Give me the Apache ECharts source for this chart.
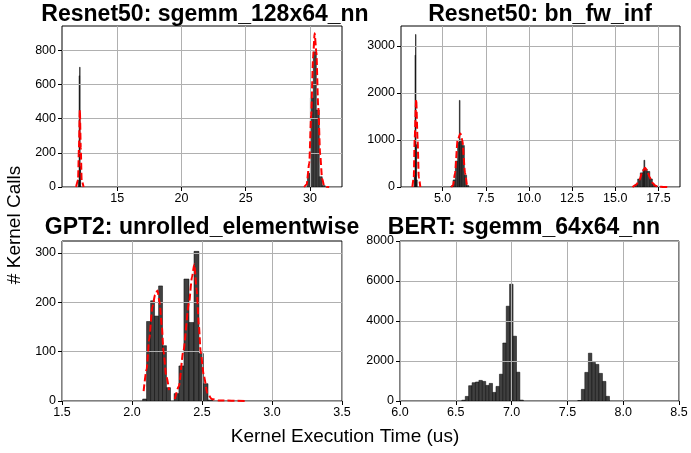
<!DOCTYPE html>
<html>
<head>
<meta charset="utf-8">
<script src="https://cdn.jsdelivr.net/npm/echarts@6/dist/echarts.min.js"></script>
<style>
  html, body { margin: 0; padding: 0; background: #fff; }
  #chart { width: 691px; height: 453px; }
</style>
</head>
<body>
<div id="chart"></div>
<script>
// ---- Resnet50: sgemm_128x64_nn ----
var sgemmLoEdges = [11.99, 12.03, 12.07, 12.11, 12.15];
var sgemmLoCounts = [40, 650, 700, 120];
var sgemmHiEdges = [29.81, 30.04, 30.27, 30.50, 30.73, 30.96, 31.19];
var sgemmHiCounts = [80, 520, 790, 450, 60, 8];
var sgemmFitLo = [[11.80, 0], [11.95, 40], [12.02, 230], [12.09, 450], [12.16, 230], [12.23, 40], [12.38, 0]];
var sgemmFitHi = [[29.55, 0], [29.75, 15], [29.95, 140], [30.10, 420], [30.25, 760], [30.37, 898], [30.50, 790],
  [30.65, 470], [30.80, 190], [30.95, 50], [31.10, 10], [31.30, 1], [31.50, 0]];

// ---- Resnet50: bn_fw_inf ----
var bnAEdges = [3.36, 3.40, 3.43, 3.46, 3.49, 3.53];
var bnACounts = [250, 2800, 3240, 900, 150];
var bnBEdges = [5.48, 5.61, 5.74, 5.87, 5.97, 6.01, 6.12, 6.26, 6.39, 6.52];
var bnBCounts = [20, 150, 550, 950, 1840, 1000, 880, 250, 30];
var bnCEdges = [16.02, 16.16, 16.30, 16.45, 16.60, 16.66, 16.71, 16.85, 17.00, 17.15, 17.30, 17.45];
var bnCCounts = [10, 60, 170, 300, 380, 568, 380, 330, 170, 60, 10];
var bnFitA = [[3.25, 0], [3.33, 200], [3.38, 1000], [3.47, 1860], [3.55, 1000], [3.62, 200], [3.71, 0]];
var bnFitB = [[5.50, 0], [5.60, 30], [5.72, 300], [5.87, 1000], [6.03, 1136], [6.14, 1000], [6.30, 300], [6.42, 30], [6.50, 0]];
var bnFitC = [[16.00, 0], [16.20, 40], [16.40, 150], [16.55, 300], [16.72, 410], [16.87, 330], [17.00, 200],
  [17.15, 90], [17.30, 30], [17.50, 8], [17.80, 1], [18.05, 0]];

// ---- GPT2: unrolled_elementwise ----
var gptAEdges = [2.076, 2.104, 2.133, 2.161, 2.190, 2.218, 2.246, 2.275];
var gptACounts = [4, 161, 203, 172, 233, 112, 27];
var gptBEdges = [2.301, 2.335, 2.371, 2.407, 2.443, 2.478, 2.510, 2.543, 2.576];
var gptBCounts = [15, 71, 247, 159, 303, 96, 35, 2];
var gptFitA = [[2.083, 20], [2.105, 65], [2.122, 124], [2.146, 191], [2.165, 215], [2.182, 224], [2.197, 200],
  [2.213, 151], [2.225, 100], [2.245, 50], [2.265, 22]];
var gptFitB = [[2.306, 4], [2.335, 30], [2.366, 100], [2.407, 198], [2.428, 250], [2.445, 277], [2.462, 225],
  [2.478, 151], [2.490, 100], [2.514, 50], [2.538, 16], [2.569, 4], [2.62, 1], [2.82, 0]];

// ---- BERT: sgemm_64x64_nn ----
var bertAEdges = [6.554, 6.585, 6.615, 6.646, 6.676, 6.707, 6.738, 6.768, 6.799, 6.829, 6.860, 6.891,
  6.921, 6.952, 6.982, 7.013, 7.044, 7.074, 7.105];
var bertACounts = [40, 230, 765, 915, 950, 1030, 980, 780, 880, 430, 730, 1340, 2900, 4740, 5840, 3240, 1440, 45];
var bertBEdges = [7.593, 7.625, 7.656, 7.688, 7.719, 7.751, 7.782, 7.814, 7.845, 7.877];
var bertBCounts = [25, 582, 1431, 2390, 1930, 1830, 1381, 981, 233];

// tick values
var sgemmXTicks = [15, 20, 25, 30];
var sgemmYTicks = [0, 200, 400, 600, 800];
var bnXTicks = [5, 7.5, 10, 12.5, 15, 17.5];
var bnYTicks = [0, 1000, 2000, 3000];
var gptXTicks = [1.5, 2.0, 2.5, 3.0, 3.5];
var gptYTicks = [0, 100, 200, 300];
var bertXTicks = [6.0, 6.5, 7.0, 7.5, 8.0, 8.5];
var bertYTicks = [0, 2000, 4000, 6000, 8000];

var titles = ['Resnet50: sgemm_128x64_nn', 'Resnet50: bn_fw_inf', 'GPT2: unrolled_elementwise', 'BERT: sgemm_64x64_nn'];

var FONT = '"Liberation Sans", Arial, sans-serif';

function bins(edges, counts) {
  var out = [];
  for (var i = 0; i < counts.length; i++) out.push([edges[i], edges[i + 1], counts[i]]);
  return out;
}

function histSeries(idx, data) {
  return {
    type: 'custom', xAxisIndex: idx, yAxisIndex: idx, z: 2, clip: true,
    data: data,
    renderItem: function (params, api) {
      var p0 = api.coord([api.value(0), api.value(2)]);
      var p1 = api.coord([api.value(1), 0]);
      return {
        type: 'rect',
        shape: { x: p0[0], y: p0[1], width: p1[0] - p0[0], height: p1[1] - p0[1] },
        style: { fill: '#404040', stroke: '#000', lineWidth: 0.5 }
      };
    }
  };
}

function fitSeries(idx, data) {
  return {
    type: 'line', xAxisIndex: idx, yAxisIndex: idx, z: 4,
    data: data, showSymbol: false, symbol: 'none',
    smooth: 0.25, smoothMonotone: 'x',
    lineStyle: { color: '#ff0000', width: 2, type: [7, 3] },
    silent: true
  };
}

function fmt1(v) { return Number(v).toFixed(1); }
function fmt0(v) { return String(v); }

function xAxisOpt(idx, min, max, ticks, fmt) {
  return {
    type: 'value', gridIndex: idx, min: min, max: max, z: 3,
    axisLine: { show: false },
    axisTick: { show: true, length: 4, customValues: ticks, lineStyle: { color: '#000', width: 1 } },
    axisLabel: { customValues: ticks, formatter: fmt, color: '#000', fontSize: 12.5, fontFamily: FONT, margin: 5 },
    splitLine: { show: true, lineStyle: { color: '#b0b0b0', width: 1 } }
  };
}

function yAxisOpt(idx, min, max, ticks) {
  return {
    type: 'value', gridIndex: idx, min: min, max: max, z: 3,
    axisLine: { show: false },
    axisTick: { show: true, length: 4, customValues: ticks, lineStyle: { color: '#000', width: 1 } },
    axisLabel: { customValues: ticks, formatter: fmt0, color: '#000', fontSize: 12.5, fontFamily: FONT, margin: 6 },
    splitLine: { show: true, lineStyle: { color: '#b0b0b0', width: 1 } }
  };
}

function gridOpt(left, top, width, height) {
  return { left: left, top: top, width: width, height: height, show: true,
    borderColor: '#000', borderWidth: 1, backgroundColor: 'transparent' };
}

function label(text, x, y, size, bold, rot) {
  return {
    type: 'text', x: x, y: y, rotation: rot || 0, z: 10,
    style: { text: text, fill: '#000', font: (bold ? 'bold ' : '') + size + 'px ' + FONT,
      align: 'center', verticalAlign: 'middle' }
  };
}

var chart = echarts.init(document.getElementById('chart'), null, { renderer: 'canvas' });

chart.setOption({
  animation: false,
  backgroundColor: '#fff',
  grid: [
    gridOpt(62, 26, 280, 161),
    gridOpt(401, 26, 279, 161),
    gridOpt(62, 241, 280, 160),
    gridOpt(400, 241, 279, 160)
  ],
  xAxis: [
    xAxisOpt(0, 10.7, 32.5, sgemmXTicks, fmt0),
    xAxisOpt(1, 2.59, 18.75, bnXTicks, fmt1),
    xAxisOpt(2, 1.5, 3.5, gptXTicks, fmt1),
    xAxisOpt(3, 6.0, 8.5, bertXTicks, fmt1)
  ],
  yAxis: [
    yAxisOpt(0, 0, 941, sgemmYTicks),
    yAxisOpt(1, 0, 3420, bnYTicks),
    yAxisOpt(2, 0, 324, gptYTicks),
    yAxisOpt(3, 0, 8000, bertYTicks)
  ],
  graphic: [
    label(titles[0], 205, 14.5, 23, true),
    label(titles[1], 540, 14.5, 23, true),
    label(titles[2], 202, 228, 23, true),
    label(titles[3], 524, 228, 23, true),
    label('# Kernel Calls', 15, 225, 19, false, Math.PI / 2),
    label('Kernel Execution Time (us)', 345, 436.5, 19, false)
  ],
  series: [
    histSeries(0, bins(sgemmLoEdges, sgemmLoCounts).concat(bins(sgemmHiEdges, sgemmHiCounts))),
    fitSeries(0, sgemmFitLo),
    fitSeries(0, sgemmFitHi),
    histSeries(1, bins(bnAEdges, bnACounts).concat(bins(bnBEdges, bnBCounts), bins(bnCEdges, bnCCounts))),
    fitSeries(1, bnFitA),
    fitSeries(1, bnFitB),
    fitSeries(1, bnFitC),
    histSeries(2, bins(gptAEdges, gptACounts).concat(bins(gptBEdges, gptBCounts))),
    fitSeries(2, gptFitA),
    fitSeries(2, gptFitB),
    histSeries(3, bins(bertAEdges, bertACounts).concat(bins(bertBEdges, bertBCounts)))
  ]
});
</script>
</body>
</html>
